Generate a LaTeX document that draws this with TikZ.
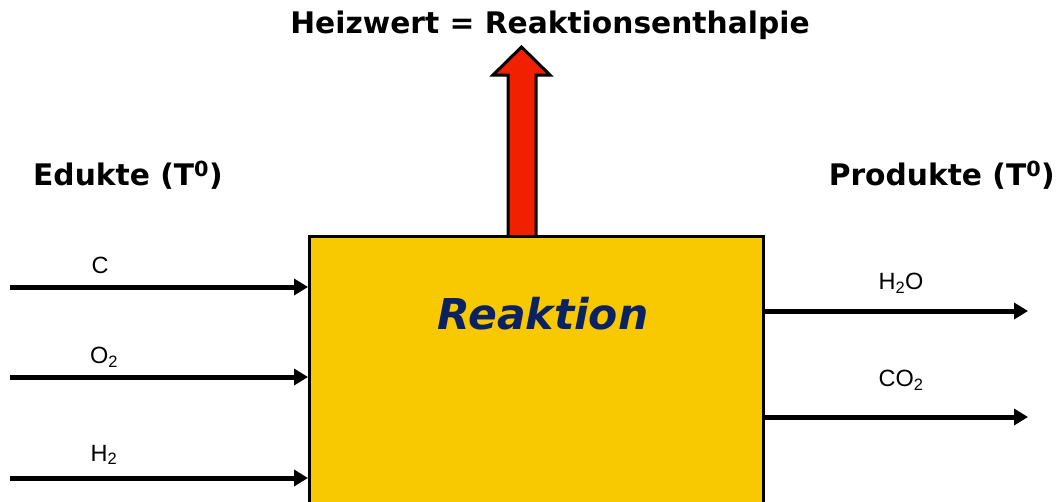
\documentclass[tikz,border=0pt]{standalone}
\usepackage{fontspec}
\setmainfont{Liberation Sans}
\newfontfamily\verdana{DejaVu Sans}
\usetikzlibrary{arrows.meta, positioning}
\definecolor{boxyellow}{HTML}{F8C800}
\definecolor{heatred}{HTML}{F02000}
\definecolor{textblue}{HTML}{0B2262}
\tikzset{
    heading/.style={font=\verdana\bfseries\fontsize{29.7}{35}\selectfont, inner sep=0pt},
    species/.style={font=\fontsize{23.5}{28}\selectfont, inner sep=0pt},
    flow/.style={line width=5pt,-{Triangle[length=14pt,width=16pt]}},
    reactor/.style={rectangle, draw=black, line width=2.5pt, fill=boxyellow, minimum width=454pt, minimum height=330pt, inner sep=0pt}
}
\begin{document}
\begin{tikzpicture}[x=1pt, y=-1pt]
\useasboundingbox (0,0) rectangle (1058,501);
\clip (0,0) rectangle (1058,501);

% Reaction box
\node (reaktion) [reactor, anchor=north west] at (308,235) {};
\node (reaktionlabel) [font=\verdana\bfseries\itshape\fontsize{42.5}{50}\selectfont, textblue] at (543,314) {Reaktion};

% Heat output arrow
\draw [line width=3pt, fill=heatred, line join=miter] (508,235) -- (508,75) -- (493,75) -- (521.5,47) -- (550,75) -- (536,75) -- (536,235);

% Headings
\node (heizwert) [heading] at (550,25) {Heizwert = Reaktionsenthalpie};
\node (edukte) [heading, anchor=west] at (33,175) {Edukte (T\textsuperscript{0})};
\node (produkte) [heading, anchor=east] at (1055,175) {Produkte (T\textsuperscript{0})};

% Educts
\coordinate (cin) at (10,287);
\coordinate (o2in) at (10,377);
\coordinate (h2in) at (10,478);
\draw [flow] (cin) -- (cin -| reaktion.west);
\draw [flow] (o2in) -- (o2in -| reaktion.west);
\draw [flow] (h2in) -- (h2in -| reaktion.west);
\node (clabel) [species] at (100,265) {C};
\node (o2label) [species] at (104,357) {O\textsubscript{2}};
\node (h2label) [species] at (104,455) {H\textsubscript{2}};

% Products
\coordinate (h2oout) at (1028,311);
\coordinate (co2out) at (1028,417);
\draw [flow] (h2oout -| reaktion.east) -- (h2oout);
\draw [flow] (co2out -| reaktion.east) -- (co2out);
\node (h2olabel) [species] at (901,283) {H\textsubscript{2}O};
\node (co2label) [species] at (901,380) {CO\textsubscript{2}};

\end{tikzpicture}
\end{document}
